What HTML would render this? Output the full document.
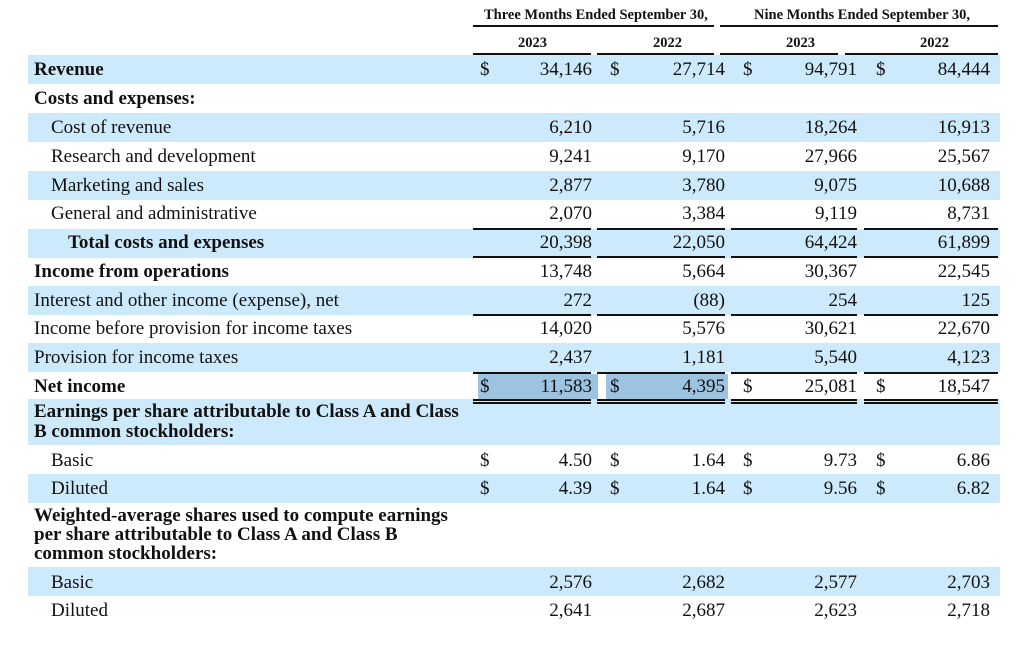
<!DOCTYPE html>
<html><head><style>
body{margin:0;width:1024px;height:671px;background:#fff;position:relative;font-family:"Liberation Serif",serif;font-size:19px;color:#111;overflow:hidden}
.b{position:absolute;left:28px;width:972px;background:#cdeafc}
.t{position:absolute;white-space:nowrap;line-height:20px}
.r{text-align:right}
.bold{font-weight:bold}
.l{position:absolute;height:2px;background:#111}
.hl{position:absolute;background:#9cc3df}
</style></head><body>
<div class="b" style="top:55px;height:29px"></div>
<div class="b" style="top:113px;height:29px"></div>
<div class="b" style="top:171px;height:29px"></div>
<div class="b" style="top:229px;height:29px"></div>
<div class="b" style="top:286px;height:29px"></div>
<div class="b" style="top:343px;height:29px"></div>
<div class="b" style="top:399px;height:46px"></div>
<div class="b" style="top:474px;height:29px"></div>
<div class="b" style="top:567px;height:29px"></div>
<div class="hl" style="left:478px;top:374px;width:120px;height:25px"></div>
<div class="hl" style="left:606px;top:374px;width:122px;height:25px"></div>

<div class="t bold" style="left:484px;top:5px;font-size:14.5px">Three Months Ended September 30,</div>
<div class="t bold" style="left:754px;top:5px;font-size:14.5px">Nine Months Ended September 30,</div>
<div class="l" style="left:473px;top:25px;width:241px"></div>
<div class="l" style="left:720px;top:25px;width:278px"></div>
<div class="t bold" style="left:518px;top:33px;font-size:14.5px">2023</div>
<div class="t bold" style="left:653px;top:33px;font-size:14.5px">2022</div>
<div class="t bold" style="left:786px;top:33px;font-size:14.5px">2023</div>
<div class="t bold" style="left:920px;top:33px;font-size:14.5px">2022</div>
<div class="l" style="left:473px;top:53px;width:118px"></div>
<div class="l" style="left:597px;top:53px;width:117px"></div>
<div class="l" style="left:720px;top:53px;width:118px"></div>
<div class="l" style="left:845px;top:53px;width:153px"></div>

<div id="rows"></div>
<script>
var rows=[
[70,34,"Revenue",1,["34,146","27,714","94,791","84,444"],1],
[99,34,"Costs and expenses:",1,null],
[128,51,"Cost of revenue",0,["6,210","5,716","18,264","16,913"]],
[157,51,"Research and development",0,["9,241","9,170","27,966","25,567"]],
[186,51,"Marketing and sales",0,["2,877","3,780","9,075","10,688"]],
[214,51,"General and administrative",0,["2,070","3,384","9,119","8,731"]],
[243,68,"Total costs and expenses",1,["20,398","22,050","64,424","61,899"]],
[272,34,"Income from operations",1,["13,748","5,664","30,367","22,545"]],
[301,34,"Interest and other income (expense), net",0,["272","(88)","254","125"]],
[329,34,"Income before provision for income taxes",0,["14,020","5,576","30,621","22,670"]],
[358,34,"Provision for income taxes",0,["2,437","1,181","5,540","4,123"]],
[387,34,"Net income",1,["11,583","4,395","25,081","18,547"],1],
[412,34,"Earnings per share attributable to Class A and Class",1,null],
[432,34,"B common stockholders:",1,null],
[461,51,"Basic",0,["4.50","1.64","9.73","6.86"],1],
[489,51,"Diluted",0,["4.39","1.64","9.56","6.82"],1],
[516,34,"Weighted-average shares used to compute earnings",1,null],
[535,34,"per share attributable to Class A and Class B",1,null],
[554,34,"common stockholders:",1,null],
[583,51,"Basic",0,["2,576","2,682","2,577","2,703"]],
[611,51,"Diluted",0,["2,641","2,687","2,623","2,718"]]
];
var rx=[592,725,857,990],dx=[480,610,743,876],h="";
rows.forEach(function(r){
 var y=r[0]-10;
 h+='<div class="t'+(r[3]?' bold':'')+'" style="left:'+r[1]+'px;top:'+y+'px">'+r[2]+'</div>';
 if(r[4]){for(var i=0;i<4;i++){
  h+='<div class="t r" style="left:'+(rx[i]-100)+'px;width:100px;top:'+y+'px">'+r[4][i]+'</div>';
  if(r[5])h+='<div class="t" style="left:'+dx[i]+'px;top:'+y+'px">$</div>';}}
});
var segs=[[473,118],[597,128],[731,126],[864,134]];
function line(y,dbl){segs.forEach(function(s){h+='<div class="l" style="left:'+s[0]+'px;top:'+y+'px;width:'+s[1]+'px;height:1.5px"></div>';if(dbl)h+='<div class="l" style="left:'+s[0]+'px;top:'+(y+3)+'px;width:'+s[1]+'px;height:1.5px"></div>';});}
line(228);line(256);line(314);line(372);line(399,1);
document.getElementById("rows").innerHTML=h;
</script>
</body></html>
